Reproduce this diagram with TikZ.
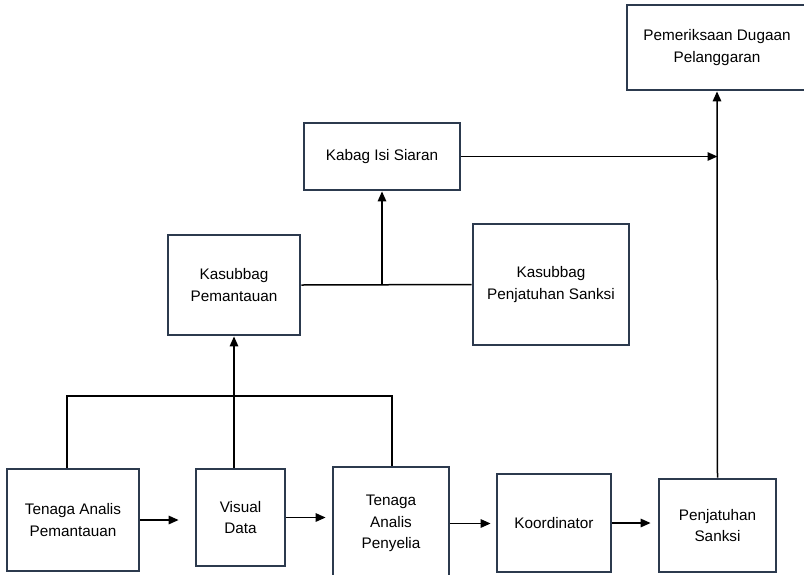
\documentclass[tikz,border=0pt]{standalone}
\usepackage{fontspec}
\setmainfont{Liberation Sans}
\usetikzlibrary{arrows.meta}
\definecolor{garis}{RGB}{44,58,78}
\tikzset{
  kotak/.style={draw=garis, line width=2.8pt, align=center, inner sep=0pt,
    font=\fontsize{15.3}{21.5}\selectfont},
  panah/.style={line width=1.5pt, -{Triangle[length=10pt,width=8.5pt]}},
  garisan/.style={line width=1.5pt}
}

\begin{document}
\begin{tikzpicture}[x=1pt, y=-1pt]
        \useasboundingbox (0,0) rectangle (804,574);
        % kotak baris bawah
        \node [kotak, minimum width=132pt, minimum height=102pt] (tap) at (73,520) {Tenaga Analis\\Pemantauan};
        \node [kotak, minimum width=89pt, minimum height=97pt] (visual) at (240.5,517.5) {Visual\\Data};
        \node [kotak, minimum width=116pt, minimum height=113pt] (penyelia) at (391,523.5) {Tenaga\\Analis\\Penyelia};
        \node [kotak, minimum width=114pt, minimum height=98pt] (koord) at (554,523) {Koordinator};
        \node [kotak, minimum width=117pt, minimum height=93pt] (pjs) at (717.5,525.5) {Penjatuhan\\Sanksi};
        % kotak tengah dan atas
        \node [kotak, minimum width=132pt, minimum height=100pt] (kpem) at (234,285) {Kasubbag\\Pemantauan};
        \node [kotak, minimum width=156pt, minimum height=121pt] (kpjs) at (551,284.5) {Kasubbag\\Penjatuhan Sanksi};
        \node [kotak, minimum width=156pt, minimum height=67pt] (kabag) at (382,156.5) {Kabag Isi Siaran};
        \node [kotak, minimum width=180pt, minimum height=85pt] (periksa) at (717,47.5) {Pemeriksaan Dugaan\\Pelanggaran};
        % garis gabungan
        \coordinate (busL) at (67,396);
        \coordinate (busR) at (392,396);
        \draw [garisan] (tap.north -| busL) -- (busL) -- (busR) -- (penyelia.north -| busR);
        \draw [panah] (visual.north -| kpem) -- (kpem.south);
        \draw [garisan] (kpem.east) -- (kpjs.west);
        \draw [panah] (kpem.east -| kabag.south) -- (kabag.south);
        \draw [panah] (kabag.east) -- (kabag.east -| pjs.north);
        \draw [panah] (pjs.north) -- (periksa.south);
        % alur bawah
        \draw [panah, shorten >=16pt] (tap.east) -- (tap.east -| visual.west);
        \draw [panah, shorten >=6pt] (visual.east) -- (visual.east -| penyelia.west);
        \draw [panah, shorten >=5pt] (penyelia.east) -- (penyelia.east -| koord.west);
        \draw [panah, shorten >=7pt] (koord.east) -- (koord.east -| pjs.west);
    \end{tikzpicture}
\end{document}
